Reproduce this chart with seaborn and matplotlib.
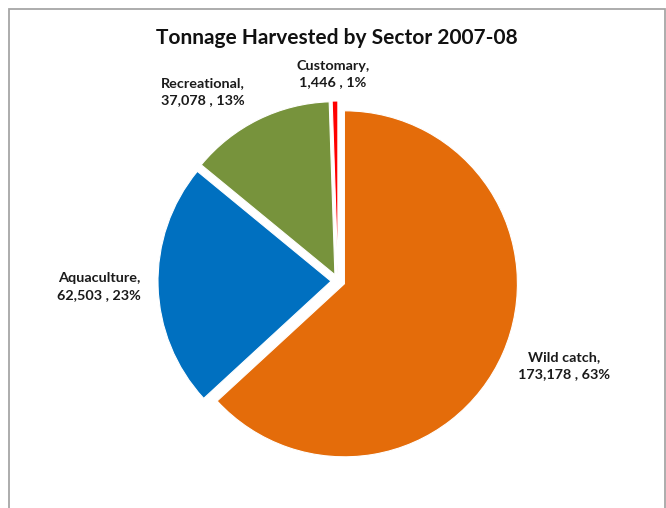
import matplotlib
matplotlib.use("Agg")
import matplotlib.pyplot as plt
from matplotlib.patches import Rectangle
import seaborn as sns

# Tonnage harvested by sector, 2007-08
sectors = ["Wild catch", "Aquaculture", "Recreational", "Customary"]
tonnes = [173178, 62503, 37078, 1446]
pct_labels = [63, 23, 13, 1]
sector_colors = ["#E46C0A", "#0070C0", "#77933C", "#FF0000"]

title = "Tonnage Harvested by Sector 2007-08"

sns.set_theme(style="white")
plt.rcParams["font.family"] = ["Lato", "DejaVu Sans"]

W, H = 666, 508
fig = plt.figure(figsize=(W / 100, H / 100), dpi=100)
ax = fig.add_axes([0, 0, 1, 1])

palette = sns.color_palette(sector_colors)
radius = 173
center = (338, H - 281)
ax.pie(
    tonnes,
    colors=palette,
    startangle=90,
    counterclock=False,
    radius=radius,
    center=center,
    explode=[7] * len(tonnes),
    wedgeprops=dict(edgecolor="white", linewidth=0.8),
)
ax.set_xlim(0, W)
ax.set_ylim(0, H)
ax.set_aspect("equal")
ax.axis("off")

# chart frame
ax.add_patch(Rectangle((9, -20), 656, H - 9 + 20, fill=False,
                       edgecolor="#A6A6A6", linewidth=1.3, zorder=0))

ax.text(337, H - 38, title, ha="center", va="center",
        fontsize=15, fontweight="bold", color="#111111")

# data label positions (x, y from top)
label_pos = [(564, 366), (99, 287), (203, 92), (333, 74)]
for name, val, pct, (lx, ly) in zip(sectors, tonnes, pct_labels, label_pos):
    ax.text(lx, H - ly, f"{name},\n{val:,} , {pct}%", ha="center", va="center",
            fontsize=10.4, fontweight="bold", color="#1a1a1a", linespacing=1.5)

fig.savefig("out.png", dpi=100, facecolor="white")
